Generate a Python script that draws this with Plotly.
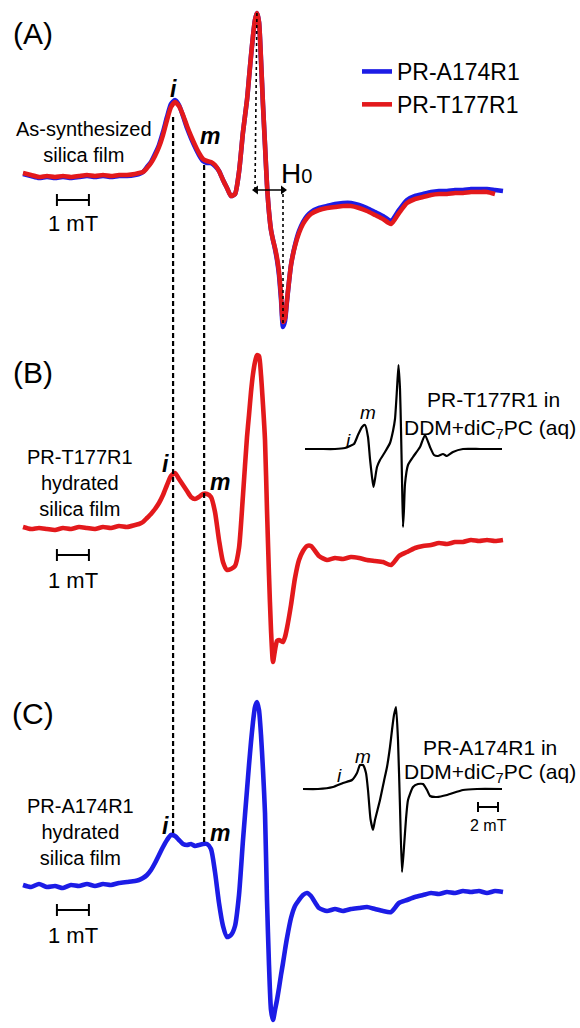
import plotly.graph_objects as go

W, H = 580, 1028
FONT = "Liberation Sans, Arial, sans-serif"
RED = "#e3191c"
BLUE = "#1c1ce6"

# ---------------- data (field in mT, intensity in arbitrary units) ----------------
FIELD = [0, 0.25, 0.5, 0.75, 1.0, 1.25, 1.5, 1.75, 2.0, 2.25, 2.5, 2.75, 3.0, 3.25, 3.5,
         3.625, 3.75, 3.875, 4.0, 4.125, 4.25, 4.375, 4.5, 4.625, 4.75, 4.875, 5.0, 5.125,
         5.25, 5.375, 5.5, 5.625, 5.75, 5.875, 6.0, 6.125, 6.25, 6.375, 6.5, 6.625, 6.75, 6.875,
         7.0, 7.0625, 7.125, 7.1875, 7.25, 7.3125, 7.375, 7.4375, 7.5, 7.5625, 7.625, 7.6875,
         7.75, 7.8125, 7.875, 7.9375, 8.0, 8.0625, 8.125, 8.1875, 8.25,
         8.375, 8.5, 8.625, 8.75, 8.875, 9.0,
         9.25, 9.5, 9.75, 10.0, 10.25, 10.5, 10.75, 11.0, 11.25, 11.5, 11.75, 12.0, 12.25,
         12.5, 12.75, 13.0, 13.25, 13.5, 13.75, 14.0, 14.25, 14.5, 14.75, 15.0]

A_A174R1 = [1, -1, -3, -2, -3, -2, -3, -2, -1, -2, -1, -2, -1, -1, 0,
            1, 3, 8, 13, 21, 30, 43, 58, 71, 75, 70, 59, 47, 37, 28, 20, 14, 12, 12, 9, 4, -5,
            -13, -21, -19, 3, 43,
            75, 97, 119, 139, 155, 162, 153, 115, 70, 30, -10, -37, -55, -65, -74, -85, -100,
            -124, -152, -146, -126,
            -90, -70, -56, -47, -41, -37,
            -33, -31, -29, -28, -28, -30, -33, -37, -41, -46, -35, -25, -21, -19, -17, -16, -16,
            -15, -15, -14, -14, -14, -15, -16]

A_T177R1 = [2, 0, -2, -1, -2, -1, -2, -1, 0, -1, 0, -1, 0, 0, 1,
            2, 3, 7, 12, 19, 28, 40, 55, 68, 73, 69, 60, 49, 39, 30, 22, 16, 14, 13, 10, 4, -5,
            -13, -21, -19, 3, 43,
            75, 97, 119, 139, 155, 162, 153, 115, 70, 30, -10, -37, -55, -65, -73, -83, -97,
            -120, -147, -143, -125,
            -90, -71, -58, -49, -43, -39,
            -35, -33, -32, -31, -31, -33, -36, -40, -44, -49, -38, -28, -24, -22, -20, -19, -19,
            -18, -18, -17, -17, -17, -19, None]

B_T177R1 = [0, -2, -1, -2, -3, -1, -2, 0, -1, -2, 0, -1, 1, 0, 2,
            3, 5, 9, 13, 18, 24, 32, 42, 51, 54, 48, 42, 36, 30, 28, 30, 33, 33, 30, 15, -13,
            -35, -43, -42, -39, -21, 32,
            90, 112, 135, 153, 165, 172, 171, 152, 122, 87, 17, -48, -103, -135, -123, -114,
            -113, -114, -115, -110, -101,
            -78, -51, -33, -24, -19, -19,
            -29, -33, -31, -32, -30, -31, -33, -34, -35, -38, -29, -25, -21, -19, -18, -16, -17,
            -15, -15, -13, -14, -13, -14, -13]

C_A174R1 = [0, -2, 1, -2, -1, -3, 0, -1, 1, -1, 1, 0, 2, 3, 4,
            5, 7, 10, 15, 22, 30, 38, 45, 50, 49, 45, 41, 40, 41, 39, 40, 41, 41, 36, 13, -18,
            -41, -52, -50, -41, -10, 45,
            95, 120, 143, 163, 178, 183, 175, 150, 115, 72, -15, -80, -125, -135, -125, -115,
            -103, -90, -78, -65, -53,
            -33, -21, -15, -10, -8, -11,
            -23, -26, -24, -26, -24, -23, -22, -24, -26, -27, -18, -15, -12, -10, -8, -9, -7,
            -8, -6, -7, -6, -8, -6, -7]

INSET_B_FIELD = [0.2, 1.7, 3.2, 4.2, 4.7, 5.1, 5.5, 5.9, 6.2, 6.5, 6.7, 6.9, 7.05, 7.2, 7.4,
                 7.7, 8.2, 8.7, 9.0, 9.2, 9.4, 9.55, 9.7, 9.8, 9.9, 10.0, 10.1, 10.2, 10.5,
                 11.0, 11.7, 12.2, 12.7, 13.1, 13.5, 14.0, 14.4, 15.0, 16.0, 17.7, 19.9]
INSET_B_INT = [0, 0, 0, 1, 3, 5, 14, 22, 24, 12, -10, -28, -38, -30, -18,
               -11, -3, 6, 18, 30, 60, 84, 60, 20, -30, -78, -60, -35, -16,
               -8, 2, 14, 2, -6, -7, -5, -7, -3, 0, 0, 0]

INSET_C_FIELD = [0.0, 1.5, 3.0, 4.0, 4.9, 5.4, 5.7, 6.0, 6.3, 6.5, 6.75, 7.0, 7.2, 7.7, 8.1,
                 8.4, 8.7, 8.9, 9.1, 9.3, 9.5, 9.7, 9.9, 10.1, 10.3, 10.5, 11.0, 11.5, 12.0,
                 12.4, 12.7, 13.4, 14.4, 16.0, 17.4, 19.9]
INSET_C_INT = [0, 0, 2, 6, 9, 16, 24, 24, 16, -1, -30, -41, -31, -11, 8,
               22, 42, 59, 74, 82, 49, -18, -83, -58, -30, -11, 2, 5, 5,
               -1, -7, -8, -6, -1, 0, 0]

I_FIELD = 4.69      # "i" component position (mT)
M_FIELD = 5.66      # "m" component position (mT)
H0_PEAK = 7.28      # low-field extremum of central line (mT)
H0_TROUGH = 8.125   # high-field extremum of central line (mT)
H0_LEVEL = -15      # level of the H0 arrow (a.u.)
SCALE_START = 1.06  # start of the 1 mT scale bars (mT)
INSET_SCALE_START = 17.5  # start of the 2 mT inset scale bar (mT)

LEGEND_NAMES = ["PR-A174R1", "PR-T177R1"]

# ---------------- layout helpers ----------------
def py(ypx):
    return 1 - ypx / H

def px(xpx):
    return xpx / W

def ann(text, x, y, size, **kw):
    d = dict(text=text, x=px(x), y=py(y), xref="paper", yref="paper", showarrow=False,
             font=dict(size=size, color="black", family=FONT), xanchor="center",
             yanchor="middle")
    d.update(kw)
    return d

fig = go.Figure()
main_line = dict(width=4.6, shape="spline", smoothing=0.6)

fig.add_trace(go.Scatter(x=FIELD, y=A_A174R1, mode="lines", name=LEGEND_NAMES[0],
                         line=dict(color=BLUE, **main_line), xaxis="x", yaxis="y"))
fig.add_trace(go.Scatter(x=FIELD, y=A_T177R1, mode="lines", name=LEGEND_NAMES[1],
                         line=dict(color=RED, **main_line), xaxis="x", yaxis="y"))
fig.add_trace(go.Scatter(x=FIELD, y=B_T177R1, mode="lines", showlegend=False,
                         line=dict(color=RED, **main_line), xaxis="x", yaxis="y2"))
fig.add_trace(go.Scatter(x=FIELD, y=C_A174R1, mode="lines", showlegend=False,
                         line=dict(color=BLUE, **main_line), xaxis="x", yaxis="y3"))
inset_line = dict(color="black", width=2.2, shape="spline", smoothing=0.5)
fig.add_trace(go.Scatter(x=INSET_B_FIELD, y=INSET_B_INT, mode="lines", showlegend=False,
                         line=inset_line, xaxis="x2", yaxis="y4"))
fig.add_trace(go.Scatter(x=INSET_C_FIELD, y=INSET_C_INT, mode="lines", showlegend=False,
                         line=inset_line, xaxis="x2", yaxis="y5"))
# H0 double arrow
fig.add_trace(go.Scatter(x=[H0_PEAK, H0_TROUGH], y=[H0_LEVEL, H0_LEVEL], mode="lines+markers",
                         showlegend=False, hoverinfo="skip",
                         line=dict(color="black", width=1.5),
                         marker=dict(symbol=["triangle-left", "triangle-right"], size=8,
                                     color="black"),
                         xaxis="x", yaxis="y"))

hid = dict(visible=False, showgrid=False, zeroline=False, fixedrange=True)
shapes = []
# i and m guide lines across all panels
for f, y0, y1 in [(I_FIELD, 117, 833), (M_FIELD, 165, 843)]:
    shapes.append(dict(type="line", xref="x", yref="paper", x0=f, x1=f, y0=py(y0), y1=py(y1),
                       line=dict(color="black", width=2.2, dash="5px,3px")))
# H0 guide lines
shapes.append(dict(type="line", xref="x", yref="y", x0=H0_PEAK + 0.03, x1=H0_PEAK - 0.03,
                   y0=162, y1=H0_LEVEL, line=dict(color="black", width=1.6, dash="dot")))
shapes.append(dict(type="line", xref="x", yref="y", x0=H0_TROUGH, x1=H0_TROUGH,
                   y0=-148, y1=H0_LEVEL, line=dict(color="black", width=1.6, dash="dot")))
# 1 mT scale bars
for yax, lvl in [("y", -25), ("y2", -28), ("y3", -25)]:
    shapes.append(dict(type="line", xref="x", yref=yax, x0=SCALE_START, x1=SCALE_START + 1,
                       y0=lvl, y1=lvl, line=dict(color="black", width=2)))
    for xx in (SCALE_START, SCALE_START + 1):
        shapes.append(dict(type="line", xref="x", yref=yax, x0=xx, x1=xx, y0=lvl - 6,
                           y1=lvl + 6, line=dict(color="black", width=2)))
# 2 mT inset scale bar
shapes.append(dict(type="line", xref="x2", yref="y5", x0=INSET_SCALE_START,
                   x1=INSET_SCALE_START + 2, y0=-18, y1=-18, line=dict(color="black", width=2)))
for xx in (INSET_SCALE_START, INSET_SCALE_START + 2):
    shapes.append(dict(type="line", xref="x2", yref="y5", x0=xx, x1=xx, y0=-23, y1=-13,
                       line=dict(color="black", width=2)))

annotations = [
    ann("(A)", 33, 33, 30), ann("(B)", 33, 372, 30), ann("(C)", 33, 713, 30),
    ann("As-synthesized<br>silica film", 84, 142, 20),
    ann("PR-T177R1<br>hydrated<br>silica film", 80, 483, 20),
    ann("PR-A174R1<br>hydrated<br>silica film", 80, 832, 20),
    ann("1 mT", 73, 223, 22), ann("1 mT", 73, 580, 22), ann("1 mT", 73, 935, 22),
    ann("<b><i>i</i></b>", 173, 89, 23), ann("<b><i>m</i></b>", 210, 136, 23),
    ann("<b><i>i</i></b>", 165, 464, 23), ann("<b><i>m</i></b>", 220, 482, 23),
    ann("<b><i>i</i></b>", 165, 826, 23), ann("<b><i>m</i></b>", 220, 833, 23),
    ann("<i>i</i>", 348, 440, 19), ann("<i>m</i>", 368, 412, 19),
    ann("<i>i</i>", 340, 775, 19), ann("<i>m</i>", 363, 756, 19),
    ann("PR-T177R1 in", 493, 400, 21), ann("DDM+diC<sub>7</sub>PC (aq)", 490, 429, 21),
    ann("PR-A174R1 in", 490, 747, 21), ann("DDM+diC<sub>7</sub>PC (aq)", 490, 773, 21),
    ann("2 mT", 488, 825, 16),
    ann("H<span style='font-size:20px'>0</span>", 296, 173, 28),
]

fig.update_layout(
    width=W, height=H, margin=dict(l=0, r=0, t=0, b=0),
    paper_bgcolor="white", plot_bgcolor="white",
    xaxis=dict(domain=[0, 1], range=[-23 / 32, 557 / 32], anchor="y", **hid),
    yaxis=dict(domain=[0, 1], range=[175 - H, 175], anchor="x", **hid),
    yaxis2=dict(domain=[0, 1], range=[527 - H, 527], anchor="x", overlaying="y", **hid),
    yaxis3=dict(domain=[0, 1], range=[885 - H, 885], anchor="x", overlaying="y", **hid),
    xaxis2=dict(domain=[0, 1], range=[-30.3, 27.7], anchor="y4", overlaying="x", **hid),
    yaxis4=dict(domain=[0, 1], range=[449 - H, 449], anchor="x2", overlaying="y", **hid),
    yaxis5=dict(domain=[0, 1], range=[789 - H, 789], anchor="x2", overlaying="y", **hid),
    showlegend=True,
    legend=dict(x=px(357), y=py(50), xanchor="left", yanchor="top",
                font=dict(size=23, family=FONT, color="black"), bgcolor="rgba(0,0,0,0)",
                itemwidth=30, tracegroupgap=0),
    shapes=shapes, annotations=annotations,
    font=dict(family=FONT, color="black"),
)

fig.write_html("out.html")
